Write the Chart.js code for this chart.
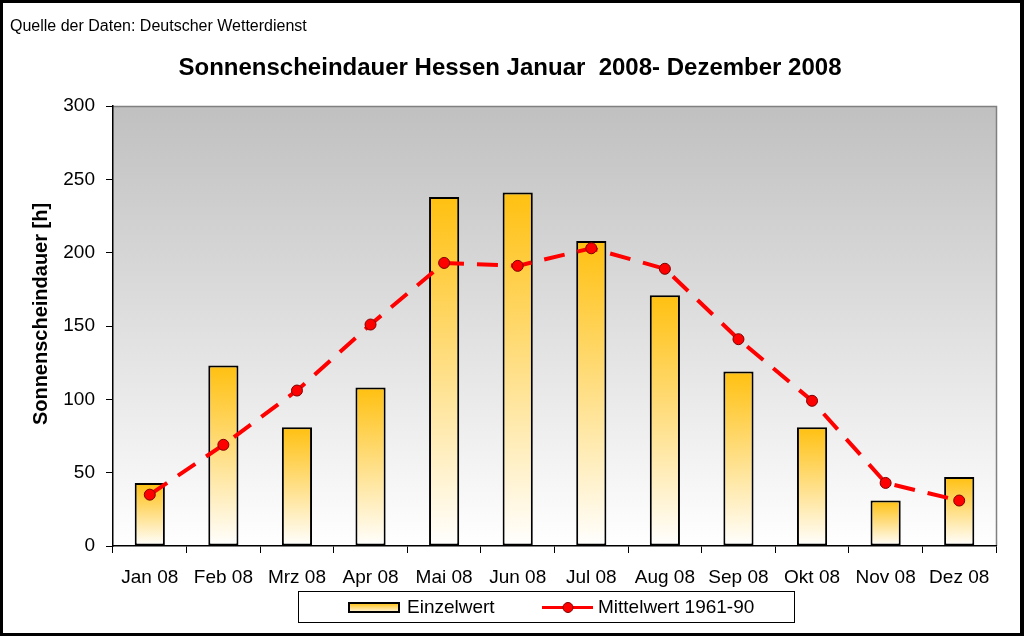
<!DOCTYPE html>
<html>
<head>
<meta charset="utf-8">
<script src="https://cdn.jsdelivr.net/npm/chart.js@4.4.1/dist/chart.umd.min.js"></script>
<style>
  html, body { margin: 0; padding: 0; background: #000; }
  #wrap { position: absolute; left: 0; top: 0; width: 1024px; height: 636px; }
  canvas { display: block; }
</style>
</head>
<body>
<div id="wrap"><canvas id="c" width="1024" height="636"></canvas></div>
<script>
// ---- data ----
const categories = ["Jan 08", "Feb 08", "Mrz 08", "Apr 08", "Mai 08", "Jun 08", "Jul 08", "Aug 08", "Sep 08", "Okt 08", "Nov 08", "Dez 08"];
const einzelwert = [43, 123, 81, 108, 238, 241, 208, 171, 119, 81, 31, 47];
const mittelwert = [35, 69, 106, 151, 193, 191, 203, 189, 141, 99, 43, 31];
const seriesLabels = ["Einzelwert", "Mittelwert 1961-90"];
const yTicks = [0, 50, 100, 150, 200, 250, 300];
const titleText = "Sonnenscheindauer Hessen Januar  2008- Dezember 2008";
const sourceText = "Quelle der Daten: Deutscher Wetterdienst";
const yTitleText = "Sonnenscheindauer [h]";

const FONT = '"Liberation Sans", Arial, sans-serif';
const BAR_TOP = '#FFC010';

const decorPlugin = {
  id: 'decor',
  beforeDraw(chart) {
    const ctx = chart.ctx;
    const a = chart.chartArea;
    ctx.save();
    ctx.fillStyle = '#000';
    ctx.fillRect(0, 0, chart.width, chart.height);
    ctx.fillStyle = '#fff';
    ctx.fillRect(3, 3, 1017, 630);
    const g = ctx.createLinearGradient(0, a.top, 0, a.bottom);
    g.addColorStop(0, '#C0C0C0');
    g.addColorStop(1, '#FFFFFF');
    ctx.fillStyle = g;
    ctx.fillRect(a.left, a.top, a.right - a.left, a.bottom - a.top);
    ctx.strokeStyle = '#808080';
    ctx.lineWidth = 1.5;
    ctx.beginPath();
    ctx.moveTo(a.left, a.top + 0.5);
    ctx.lineTo(a.right + 0.5, a.top + 0.5);
    ctx.lineTo(a.right + 0.5, a.bottom);
    ctx.stroke();
    ctx.restore();
  },
  afterDraw(chart) {
    const ctx = chart.ctx;
    ctx.save();
    ctx.fillStyle = '#000';
    ctx.font = '16px ' + FONT;
    ctx.textAlign = 'left';
    ctx.textBaseline = 'middle';
    ctx.fillText(sourceText, 10, 27);
    ctx.font = 'bold 24px ' + FONT;
    ctx.textAlign = 'center';
    ctx.fillText(titleText, 510, 68);
    ctx.save();
    ctx.translate(41, 314);
    ctx.rotate(-Math.PI / 2);
    ctx.font = 'bold 20px ' + FONT;
    ctx.textAlign = 'center';
    ctx.textBaseline = 'middle';
    ctx.fillText(yTitleText, 0, 0);
    ctx.restore();
    // legend
    ctx.fillStyle = '#fff';
    ctx.fillRect(298.5, 591.5, 496, 31);
    ctx.strokeStyle = '#000';
    ctx.lineWidth = 1;
    ctx.strokeRect(298.5, 591.5, 496, 31);
    const sg = ctx.createLinearGradient(0, 603, 0, 612);
    sg.addColorStop(0, BAR_TOP);
    sg.addColorStop(1, '#FFF4DC');
    ctx.fillStyle = sg;
    ctx.fillRect(349, 603, 50, 9);
    ctx.lineWidth = 2;
    ctx.strokeRect(349, 603, 50, 9);
    ctx.fillStyle = '#000';
    ctx.font = '19px ' + FONT;
    ctx.textAlign = 'left';
    ctx.textBaseline = 'middle';
    ctx.fillText(chart.data.datasets[0].label, 407, 608);
    ctx.strokeStyle = '#FF0000';
    ctx.lineWidth = 3;
    ctx.beginPath();
    ctx.moveTo(542, 607.5);
    ctx.lineTo(593, 607.5);
    ctx.stroke();
    ctx.beginPath();
    ctx.arc(568, 607.5, 5, 0, Math.PI * 2);
    ctx.fillStyle = '#FF0000';
    ctx.fill();
    ctx.lineWidth = 1;
    ctx.strokeStyle = '#800000';
    ctx.stroke();
    ctx.fillStyle = '#000';
    ctx.fillText(chart.data.datasets[1].label, 598, 608);
    ctx.restore();
  }
};

function barGradient(c) {
  const chart = c.chart;
  const area = chart.chartArea;
  if (!area || c.type !== 'data' || !chart.scales.y) return BAR_TOP;
  const y = chart.scales.y;
  const top = y.getPixelForValue(c.raw);
  const bot = y.getPixelForValue(0);
  if (!isFinite(top) || !isFinite(bot) || top === bot) return BAR_TOP;
  const g = chart.ctx.createLinearGradient(0, top, 0, bot);
  g.addColorStop(0, BAR_TOP);
  g.addColorStop(1, '#FFFFFF');
  return g;
}

new Chart(document.getElementById('c'), {
  data: {
    labels: categories,
    datasets: [
      {
        type: 'bar',
        label: seriesLabels[0],
        data: einzelwert,
        backgroundColor: barGradient,
        borderColor: '#000',
        borderWidth: 2,
        borderSkipped: false,
        categoryPercentage: 1,
        barPercentage: 0.41,
        order: 2
      },
      {
        type: 'line',
        label: seriesLabels[1],
        data: mittelwert,
        borderColor: '#FF0000',
        borderWidth: 4,
        borderDash: [21, 13],
        tension: 0,
        fill: false,
        pointRadius: 5.5,
        pointBackgroundColor: '#FF0000',
        pointBorderColor: '#800000',
        pointBorderWidth: 1,
        order: 1
      }
    ]
  },
  options: {
    responsive: false,
    devicePixelRatio: 1,
    animation: false,
    layout: { padding: { top: 106, left: 0, right: 28, bottom: 0 } },
    plugins: {
      legend: { display: false },
      title: { display: false },
      tooltip: { enabled: false }
    },
    scales: {
      x: {
        type: 'category',
        offset: true,
        grid: { display: true, drawOnChartArea: false, drawTicks: true, offset: true, tickLength: 7, color: '#000', tickColor: '#000', lineWidth: 1 },
        border: { display: true, color: '#000', width: 1.5 },
        ticks: { color: '#000', font: { size: 19, family: FONT }, padding: 13, maxRotation: 0, autoSkip: false },
        afterFit(s) { s.height = 90; }
      },
      y: {
        min: 0,
        max: 300,
        afterBuildTicks(s) { s.ticks = yTicks.map(v => ({ value: v })); },
        grid: { display: true, drawOnChartArea: false, drawTicks: true, tickLength: 7, color: '#000', tickColor: '#000', lineWidth: 1 },
        border: { display: true, color: '#000', width: 1.5 },
        ticks: { color: '#000', font: { size: 19, family: FONT }, padding: 11 },
        afterFit(s) { s.width = 113; }
      }
    }
  },
  plugins: [decorPlugin]
});
</script>
</body>
</html>
